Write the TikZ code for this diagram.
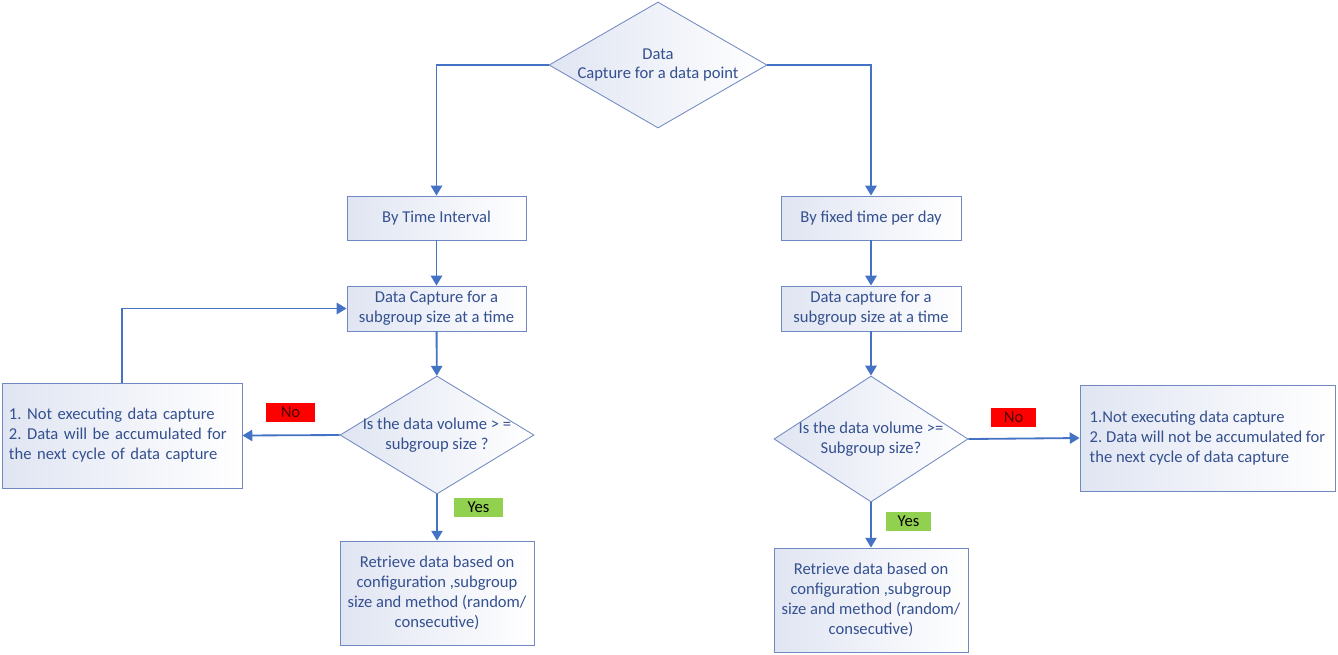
\documentclass[tikz,border=0pt]{standalone}
\usepackage{fontspec}
\setmainfont{Carlito}
\usetikzlibrary{shapes.geometric,arrows.meta}
\definecolor{linkblue}{HTML}{4472C4}
\definecolor{edgeblue}{HTML}{7189C2}
\definecolor{inkblue}{HTML}{34508F}
\definecolor{shadeblue}{HTML}{E0E5F2}
\definecolor{noRed}{HTML}{FF0000}
\definecolor{yesGreen}{HTML}{92D050}
\newcommand{\pxu}{0.025cm}
\frenchspacing

\begin{document}
\begin{tikzpicture}[x=0.025cm, y=-0.025cm,
  every node/.style={font=\fontsize{11.8}{14.2}\selectfont, text=inkblue},
  box/.style={draw=edgeblue, line width=0.6pt, left color=shadeblue, right color=white, align=center, inner sep=0pt},
  choice/.style={diamond, draw=edgeblue, line width=0.6pt, left color=shadeblue, right color=white, align=center, inner sep=-6pt, aspect=1.6},
  flow/.style={draw=linkblue, line width=1.3pt, -{Triangle[length=7pt,width=8pt]}},
  tag/.style={minimum width=49*\pxu, minimum height=19*\pxu, inner sep=0pt}]
  \useasboundingbox (0,0) rectangle (1338,654);
  % top decision
  \node[choice, minimum width=218*\pxu, minimum height=126*\pxu] (start) at (658,65) {Data\\Capture for a data point};
  % left branch
  \node[box, minimum width=179*\pxu, minimum height=44*\pxu] (interval) at (436.5,218) {By Time Interval};
  \node[box, minimum width=179*\pxu, minimum height=45*\pxu] (captureL) at (436.5,308.5) {Data Capture for a\\subgroup size at a time};
  \node[choice, minimum width=194*\pxu, minimum height=118*\pxu] (checkL) at (437,435) {Is the data volume > =\\subgroup size ?};
  \node[box, align=left, text width=226*\pxu, inner xsep=7*\pxu, minimum height=105*\pxu] (waitL) at (122,435.5) {1. Not executing data capture\\2. Data will be accumulated for\\the next cycle of data capture};
  \node[box, minimum width=194*\pxu, minimum height=104*\pxu] (fetchL) at (437,593) {Retrieve data based on\\configuration ,subgroup\\size and method (random/\\consecutive)};
  % right branch
  \node[box, minimum width=180*\pxu, minimum height=44*\pxu] (fixed) at (871,218) {By fixed time per day};
  \node[box, minimum width=180*\pxu, minimum height=45*\pxu] (captureR) at (871,308.5) {Data capture for a\\subgroup size at a time};
  \node[choice, minimum width=194*\pxu, minimum height=126*\pxu] (checkR) at (871,439) {Is the data volume >=\\Subgroup size?};
  \node[box, align=left, minimum width=255*\pxu, minimum height=106*\pxu] (waitR) at (1207.5,438) {1.Not executing data capture\\2. Data will not be accumulated for\\the next cycle of data capture};
  \node[box, minimum width=194*\pxu, minimum height=104*\pxu] (fetchR) at (871,600) {Retrieve data based on\\configuration ,subgroup\\size and method (random/\\consecutive)};
  % answer tags
  \node[tag, fill=noRed, text=black!70!red] (noL) at (290.5,412.5) {No};
  \node[tag, fill=yesGreen, text=black] (yesL) at (478.5,507) {Yes};
  \node[tag, fill=noRed, text=black!70!red, minimum width=45*\pxu] (noR) at (1013.5,417) {No};
  \node[tag, fill=yesGreen, text=black, minimum width=45*\pxu] (yesR) at (908.5,521) {Yes};
  % connectors
  \draw[flow] (start.west) -| (interval.north);
  \draw[flow] (start.east) -| (fixed.north);
  \draw[flow] (interval) -- (captureL);
  \draw[flow] (captureL) -- (checkL);
  \draw[flow] (checkL.west) -- (waitL.east);
  \draw[flow] (waitL.north) |- (captureL.west);
  \draw[flow] (checkL.south) -- (fetchL.north);
  \draw[flow] (fixed) -- (captureR);
  \draw[flow] (captureR) -- (checkR);
  \draw[flow] (checkR.east) -- (waitR.west);
  \draw[flow] (checkR.south) -- (fetchR.north);
\end{tikzpicture}
\end{document}
